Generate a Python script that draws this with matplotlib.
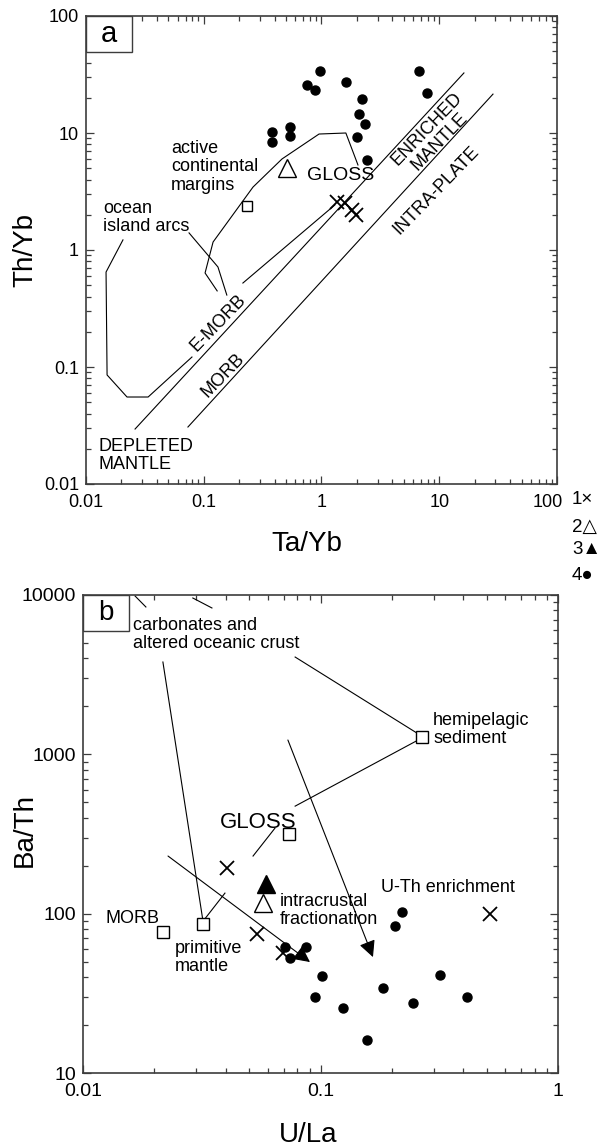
import matplotlib
matplotlib.use("Agg")
import matplotlib.pyplot as plt
import matplotlib.patches as patches
from matplotlib.ticker import LogLocator, FuncFormatter, NullFormatter

plt.rcParams['font.family'] = ['Liberation Sans', 'DejaVu Sans']

# ---- panel a : Th/Yb vs Ta/Yb ----
a_circ_x = [0.38, 0.38, 0.54, 0.54, 0.97, 0.75, 0.88, 1.61, 2.21, 2.08, 2.34, 2.0, 2.43, 6.7, 7.9]
a_circ_y = [10.2, 8.4, 11.2, 9.4, 33.9, 25.7, 23.3, 27.3, 19.5, 14.5, 11.9, 9.2, 5.9, 33.9, 22.0]
a_cross_x = [1.35, 1.58, 1.82, 1.96]
a_cross_y = [2.57, 2.52, 2.20, 1.99]
a_tri_x, a_tri_y = [0.51], [5.0]        # GLOSS
a_sq_x, a_sq_y = [0.233], [2.38]

# mantle array boundaries
arr_up_x = [0.0261, 16.2]
arr_up_y = [0.0295, 32.6]
arr_lo_x = [0.0734, 28.6]
arr_lo_y = [0.0307, 21.5]
# ocean island arc field (broken by the E-MORB label)
oia1_x = [0.0206, 0.0148, 0.0151, 0.0223, 0.0337, 0.0794]
oia1_y = [1.22, 0.648, 0.0855, 0.0554, 0.0554, 0.1217]
oia2_x = [0.215, 1.30]
oia2_y = [0.522, 2.43]
oia_ptr_x = [0.075, 0.132, 0.157]
oia_ptr_y = [1.40, 0.716, 0.412]
# active continental margins field
acm_x = [0.130, 0.1026, 0.120, 0.262, 0.462, 0.953, 1.61, 2.04]
acm_y = [0.447, 0.636, 1.17, 3.45, 6.0, 9.8, 10.0, 5.33]

# ---- panel b : Ba/Th vs U/La ----
b_circ_x = [0.071, 0.0745, 0.0869, 0.101, 0.0948, 0.124, 0.157, 0.183, 0.206, 0.220, 0.245, 0.318, 0.414]
b_circ_y = [61.7, 52.6, 61.7, 40.6, 29.9, 25.5, 16.1, 34.1, 83.6, 102, 27.5, 41.2, 29.9]
b_cross_x = [0.0403, 0.054, 0.0695, 0.518]
b_cross_y = [193, 74.5, 56.6, 99.4]
b_sq_x = [0.0217, 0.032, 0.0736, 0.267]   # MORB, primitive mantle, GLOSS, hemipelagic
b_sq_y = [76.7, 86, 316, 1284]
b_otri_x, b_otri_y = [0.0573], [116.7]
b_ftri_x, b_ftri_y = [0.059], [153]

carb1_x, carb1_y = [0.01656, 0.0184], [9860, 8410]
carb2_x, carb2_y = [0.0290, 0.0349], [9575, 8290]
carb_pm_x, carb_pm_y = [0.0217, 0.0320], [3797, 89.9]
carb_hs_x, carb_hs_y = [0.0782, 0.2545], [4080, 1361]
hs_gl_x, hs_gl_y = [0.2577, 0.0782], [1230, 473]
pm_gl1_x, pm_gl1_y = [0.0323, 0.0396], [91.2, 134.6]
pm_gl2_x, pm_gl2_y = [0.052, 0.0643], [230, 344]
frac_arrow = [(0.0228, 230), (0.0903, 49.7)]
uth_arrow = [(0.0729, 1230), (0.1663, 53.4)]

spine_c = '#3c3c3c'
lw = 0.8

fig = plt.figure(figsize=(6.02, 11.47), dpi=100)
axa = fig.add_axes([86/602, 1-484/1147, 471/602, 468/1147])
axb = fig.add_axes([83/602, 1-1073/1147, 475/602, 478/1147])


def style_axis(ax, xlim, ylim, fs, skip_x=None):
    ax.set_xscale('log')
    ax.set_yscale('log')
    ax.set_xlim(*xlim)
    ax.set_ylim(*ylim)
    fmt = FuncFormatter(lambda v, p: '%g' % v)
    # the last label on the x axis is drawn separately, nudged inward
    xfmt = FuncFormatter(lambda v, p: '' if skip_x and abs(v - skip_x) < 1e-9 else '%g' % v)
    for axis, f in ((ax.xaxis, xfmt), (ax.yaxis, fmt)):
        axis.set_major_locator(LogLocator(base=10))
        axis.set_minor_locator(LogLocator(base=10, subs=range(2, 10)))
        axis.set_major_formatter(f)
        axis.set_minor_formatter(NullFormatter())
    ax.tick_params(which='both', direction='in', top=True, right=True,
                   color=spine_c, labelsize=fs, width=0.9)
    ax.tick_params(which='major', length=6)
    ax.tick_params(axis='x', which='major', pad=7)
    ax.tick_params(axis='y', which='major', pad=5)
    ax.tick_params(which='minor', length=3.8)
    for s in ax.spines.values():
        s.set_color(spine_c)
        s.set_linewidth(1.2)
    if skip_x:
        ax.annotate('%g' % skip_x, xy=(1, 0), xycoords='axes fraction',
                    xytext=(-7, -7), textcoords='offset points',
                    ha='center', va='top', fontsize=fs)


def panel_box(ax, letter, w, h, fs):
    ax.add_patch(patches.Rectangle((0, 1 - h), w, h, transform=ax.transAxes,
                                   facecolor='white', edgecolor=spine_c, lw=1, zorder=5))
    ax.text(w / 2, 1 - h / 2, letter, transform=ax.transAxes, ha='center',
            va='center', fontsize=fs, zorder=6)


# panel a
style_axis(axa, (0.01, 100), (0.01, 100), 13, skip_x=100)
panel_box(axa, 'a', 46/471, 36/468, 21)
for xs, ys in [(arr_up_x, arr_up_y), (arr_lo_x, arr_lo_y), (oia1_x, oia1_y),
               (oia2_x, oia2_y), (oia_ptr_x, oia_ptr_y), (acm_x, acm_y)]:
    axa.plot(xs, ys, color='k', lw=lw)
axa.plot(a_circ_x, a_circ_y, 'o', color='k', ms=6.5, ls='none')
axa.plot(a_cross_x, a_cross_y, 'x', color='k', ms=9.5, mew=1.3, ls='none')
axa.plot(a_tri_x, a_tri_y, '^', mfc='white', mec='k', ms=12.5, mew=1, ls='none')
axa.plot(a_sq_x, a_sq_y, 's', mfc='white', mec='k', ms=7.5, mew=1, ls='none')

fs = 13
axa.text(0.0527, 8.71, 'active\ncontinental\nmargins', fontsize=fs, va='top', linespacing=1.1)
axa.text(0.0139, 2.67, 'ocean\nisland arcs', fontsize=fs, va='top', linespacing=1.1)
axa.text(0.753, 5.12, 'GLOSS', fontsize=14, va='top')
axa.text(0.01265, 0.0247, 'DEPLETED\nMANTLE', fontsize=fs, va='top', linespacing=1.1)
axa.text(0.132, 0.238, 'E-MORB', fontsize=13, rotation=46, ha='center', va='center',
         rotation_mode='anchor')
axa.text(0.1455, 0.0855, 'MORB', fontsize=13, rotation=46, ha='center', va='center',
         rotation_mode='anchor')
axa.text(8.85, 9.6, 'ENRICHED\nMANTLE', fontsize=13, rotation=46, ha='center', va='center',
         rotation_mode='anchor', linespacing=1.1)
axa.text(9.38, 3.26, 'INTRA-PLATE', fontsize=13, rotation=46, ha='center', va='center',
         rotation_mode='anchor')
axa.text((307-86)/471, (484-544)/468, 'Ta/Yb', transform=axa.transAxes, fontsize=20,
         ha='center', va='center')
axa.text((25-86)/471, 0.5, 'Th/Yb', transform=axa.transAxes, fontsize=20,
         ha='center', va='center', rotation=90)

# panel b
style_axis(axb, (0.01, 1), (10, 10000), 14)
panel_box(axb, 'b', 46/475, 36/478, 20)
for xs, ys in [(carb1_x, carb1_y), (carb2_x, carb2_y), (carb_pm_x, carb_pm_y),
               (carb_hs_x, carb_hs_y), (hs_gl_x, hs_gl_y), (pm_gl1_x, pm_gl1_y),
               (pm_gl2_x, pm_gl2_y)]:
    axb.plot(xs, ys, color='k', lw=lw)
for start, end in [frac_arrow, uth_arrow]:
    axb.annotate('', xy=end, xytext=start,
                 arrowprops=dict(arrowstyle='-|>,head_length=0.5,head_width=0.25',
                                 color='k', lw=lw, mutation_scale=20,
                                 shrinkA=0, shrinkB=0))
axb.plot(b_circ_x, b_circ_y, 'o', color='k', ms=6.5, ls='none')
axb.plot(b_cross_x, b_cross_y, 'x', color='k', ms=9.5, mew=1.3, ls='none')
axb.plot(b_sq_x, b_sq_y, 's', mfc='white', mec='k', ms=8, mew=1, ls='none')
axb.plot(b_otri_x, b_otri_y, '^', mfc='white', mec='k', ms=12.5, mew=1, ls='none')
axb.plot(b_ftri_x, b_ftri_y, '^', color='k', ms=12.5, ls='none')

axb.text(0.01625, 7280, 'carbonates and\naltered oceanic crust', fontsize=fs, va='top',
         linespacing=1.1)
axb.text(0.298, 1844, 'hemipelagic\nsediment', fontsize=fs, va='top', linespacing=1.1)
axb.text(0.0378, 434, 'GLOSS', fontsize=16, va='top')
axb.text(0.0124, 105, 'MORB', fontsize=fs, va='top')
axb.text(0.0244, 68.3, 'primitive\nmantle', fontsize=fs, va='top', linespacing=1.1)
axb.text(0.0675, 134.6, 'intracrustal\nfractionation', fontsize=fs, va='top', linespacing=1.1)
axb.text(0.180, 165, 'U-Th enrichment', fontsize=fs, va='top')
axb.text((308-83)/475, (1073-1135)/478, 'U/La', transform=axb.transAxes, fontsize=20,
         ha='center', va='center')
axb.text((25-83)/475, (1073-830)/478, 'Ba/Th', transform=axb.transAxes, fontsize=20,
         ha='center', va='center', rotation=90)

# symbol key on the right edge
key = ['1\u00d7', '2\u25b3', '3\u25b2', '4\u25cf']
key_y = [500, 527, 550, 575]
for k, yy in zip(key, key_y):
    fig.text(572/602, 1 - yy/1147, k, fontsize=13.5, va='center', ha='left')

fig.savefig('out.png', dpi=100)
